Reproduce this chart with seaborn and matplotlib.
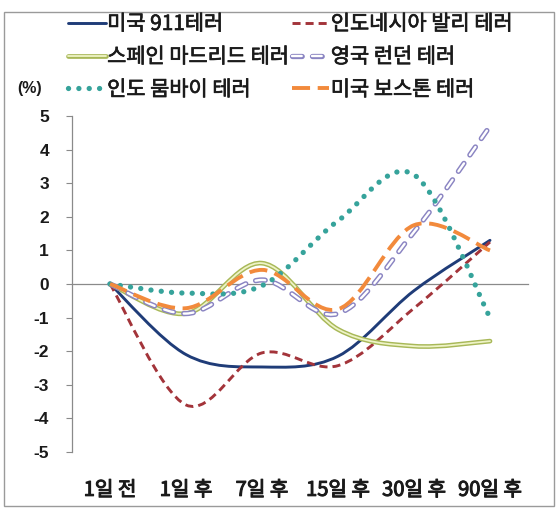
import numpy as np
import matplotlib
matplotlib.use('Agg')
import matplotlib.pyplot as plt
import matplotlib.patheffects as pe
import seaborn as sns
from matplotlib.path import Path
from matplotlib.patches import PathPatch, Rectangle
from matplotlib.lines import Line2D
from matplotlib.legend_handler import HandlerTuple

categories = ['1일 전', '1일 후', '7일 후', '15일 후', '30일 후', '90일 후']
yticks = [-5, -4, -3, -2, -1, 0, 1, 2, 3, 4, 5]

series_names = ['미국 911테러', '인도네시아 발리 테러', '스페인 마드리드 테러',
                '영국 런던 테러', '인도 뭄바이 테러', '미국 보스톤 테러']
us911 = [0, -2.1, -2.47, -2.15, -0.2, 1.3]
bali = [0, -3.6, -2.05, -2.43, -0.72, 1.25]
madrid = [0, -0.88, 0.62, -1.35, -1.85, -1.7]
london = [0, -0.88, 0.12, -0.88, 1.55, 4.7]
mumbai = [0, -0.27, -0.05, 1.88, 3.25, -1.0]
boston = [0, -0.72, 0.42, -0.75, 1.75, 1.0]
values = [us911, bali, madrid, london, mumbai, boston]

sns.set_theme(style='white')
plt.rcParams['font.family'] = ['Noto Sans CJK KR', 'DejaVu Sans']
plt.rcParams['lines.scale_dashes'] = False

W, H = 558, 508
fig = plt.figure(figsize=(W / 100, H / 100), dpi=100)
ax = fig.add_axes([72 / W, 56 / H, 456 / W, 336 / H])

# layered styles: (color, lw, linestyle, capstyle)
styles = [
    [('#1F3C78', 2.1, '-', 'round')],
    [('#A3343A', 2.1, (0, (5.8, 3.6)), 'butt')],
    [('#A8B858', 3.4, '-', 'round'), ('#EEF3C6', 1.3, '-', 'round')],
    [('#8A84C2', 3.8, (0, (7.0, 7.4)), 'round'), ('#FFFFFF', 1.7, (0, (7.0, 7.4)), 'round')],
    [('#36A39B', 3.8, (0, (0.05, 7.4)), 'round')],
    [('#F28A3C', 2.8, (0, (13, 5.5)), 'butt')],
]


def smooth_path(xs, ys):
    pts = np.column_stack([xs, ys]).astype(float)
    n = len(pts)
    verts = [pts[0]]
    codes = [Path.MOVETO]
    for i in range(n - 1):
        p0 = pts[i - 1] if i > 0 else pts[i]
        p1 = pts[i]
        p2 = pts[i + 1]
        p3 = pts[i + 2] if i + 2 < n else pts[i + 1]
        c1 = p1 + (p2 - p0) / 6.0
        c2 = p2 - (p3 - p1) / 6.0
        verts += [c1, c2, p2]
        codes += [Path.CURVE4] * 3
    return Path(verts, codes)


xs = np.arange(len(categories))
handles = []
for k, (vals, layers) in enumerate(zip(values, styles)):
    path = smooth_path(xs, vals)
    hs = []
    for j, (c, lw, ls, cap) in enumerate(layers):
        patch = PathPatch(path, fill=False, edgecolor=c, lw=lw, linestyle=ls,
                          capstyle=cap, joinstyle='round', zorder=3 + k + j * 0.1)
        ax.add_patch(patch)
        hs.append(Line2D([], [], color=c, lw=lw, linestyle=ls,
                         dash_capstyle=cap, solid_capstyle=cap))
    handles.append(tuple(hs) if len(hs) > 1 else hs[0])

bold = [pe.withStroke(linewidth=0.75, foreground='#1a1a1a')]
semibold = [pe.withStroke(linewidth=0.5, foreground='#1a1a1a')]

ax.set_xlim(-0.5, 5.5)
ax.set_ylim(-5, 5)
ax.set_yticks(yticks)
ax.set_yticklabels([str(v) for v in yticks], fontweight='bold',
                   family=['Liberation Sans', 'Noto Sans CJK KR'])
ax.set_xticks(xs)
ax.set_xticklabels(categories)
ax.set_xticks(np.arange(0.5, 6.0, 1.0), minor=True)
ax.tick_params(axis='x', which='major', length=0, pad=141, labelsize=14.5, labelcolor='#1a1a1a')
ax.tick_params(axis='x', which='minor', direction='out', length=4.5, width=0.8, color='#8A8A8A')
ax.tick_params(axis='y', direction='out', length=4.5, width=0.8, color='#8A8A8A', pad=12,
               left=True, labelsize=12.5, labelcolor='#1a1a1a')

for s in ['top', 'right']:
    ax.spines[s].set_visible(False)
ax.spines['bottom'].set_position(('data', 0))
ax.spines['bottom'].set_color('#8A8A8A')
ax.spines['bottom'].set_linewidth(0.9)
ax.spines['left'].set_color('#8A8A8A')
ax.spines['left'].set_linewidth(0.9)
ax.grid(False)
ax.set_facecolor('none')

order = [0, 2, 4, 1, 3, 5]
leg = fig.legend([handles[i] for i in order], [series_names[i] for i in order],
                 ncol=2, loc='upper left', bbox_to_anchor=(68 / W, 1 - 13 / H),
                 frameon=False, fontsize=15, handlelength=1.8, handletextpad=0.08,
                 columnspacing=0.15, labelspacing=0.52, borderpad=0, borderaxespad=0,
                 handler_map={tuple: HandlerTuple(ndivide=1)})
for t in leg.get_texts():
    t.set_color('#1a1a1a')
    t.set_path_effects(semibold)

fig.text(17 / W, 1 - 88 / H, '(%)', fontsize=11.5, fontweight='bold', va='center',
         family=['Liberation Sans', 'DejaVu Sans'], color='#1a1a1a')

fig.patches.append(Rectangle((4 / W, 2 / H), 550 / W, 1 - 14 / H, transform=fig.transFigure,
                             fill=False, edgecolor='#9A9A9A', lw=1.0))

fig.canvas.draw()
for t in ax.get_xticklabels():
    t.set_path_effects(bold)

fig.savefig('out.png', dpi=100)
